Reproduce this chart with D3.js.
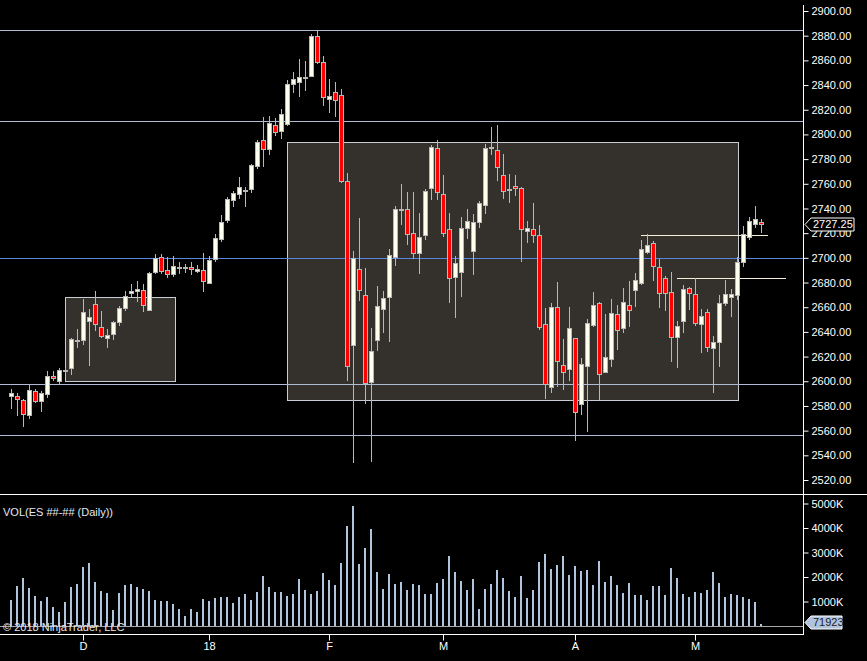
<!DOCTYPE html>
<html>
<head>
<meta charset="utf-8">
<script src="https://cdn.jsdelivr.net/npm/d3@7"></script>
<style>
  body { margin: 0; background: #000; }
  svg { display: block; }
  text { font-family: "Liberation Sans", Arial, sans-serif; }
</style>
</head>
<body>
<div id="chart"></div>
<script>
// daily bars, oldest first (index 0 .. 125)
const opens = [
  2587.5, 2588.0, 2584.5, 2572.1, 2591.8, 2583.4, 2589.9, 2604.0, 2600.1, 2609.3,
  2610.1, 2633.4, 2633.1, 2648.2, 2662.3, 2643.6, 2634.5, 2637.7, 2647.4, 2659.6,
  2670.9, 2672.5, 2673.6, 2657.7, 2688.0, 2700.4, 2689.8, 2686.3, 2692.0, 2692.0,
  2692.3, 2689.0, 2689.8, 2679.3, 2698.8, 2715.5, 2730.1, 2746.6, 2751.4, 2754.9,
  2755.5, 2773.9, 2795.2, 2787.9, 2807.9, 2802.5, 2808.2, 2840.6, 2842.2, 2846.0,
  2847.6, 2879.7, 2858.4, 2828.4, 2834.1, 2831.7, 2762.3, 2628.8, 2690.7, 2669.6,
  2598.8, 2632.9, 2658.0, 2668.0, 2700.4, 2739.6, 2739.3, 2719.8, 2703.6, 2718.2,
  2756.3, 2788.7, 2751.4, 2723.1, 2684.2, 2688.0, 2723.9, 2705.3, 2728.8, 2742.5,
  2789.3, 2787.1, 2766.8, 2755.2, 2757.9, 2756.3, 2721.2, 2723.4, 2718.2, 2646.1,
  2595.1, 2659.9, 2612.9, 2609.4, 2634.8, 2581.3, 2611.8, 2645.6, 2663.1, 2607.0,
  2617.7, 2654.2, 2642.9, 2661.5, 2673.7, 2679.3, 2704.4, 2711.7, 2692.3, 2683.4,
  2672.0, 2635.6, 2648.5, 2675.3, 2670.4, 2646.1, 2655.8, 2626.7, 2631.5, 2663.1,
  2668.0, 2669.6, 2696.3, 2716.6, 2727.1, 2728.8
];
const highs = [
  2593.4, 2590.2, 2586.0, 2597.7, 2593.4, 2591.8, 2608.3, 2608.3, 2610.7, 2610.4,
  2635.0, 2642.3, 2666.6, 2658.2, 2673.1, 2656.9, 2642.0, 2648.8, 2660.9, 2673.1,
  2678.8, 2680.9, 2678.5, 2688.5, 2703.1, 2703.1, 2700.9, 2701.4, 2696.6, 2695.0,
  2696.6, 2694.1, 2703.6, 2701.4, 2719.0, 2734.4, 2749.6, 2754.4, 2765.2, 2757.1,
  2776.0, 2795.5, 2813.8, 2814.6, 2813.3, 2820.3, 2844.1, 2850.3, 2860.8, 2859.2,
  2881.4, 2883.8, 2863.5, 2844.6, 2842.5, 2836.5, 2768.5, 2705.5, 2732.3, 2691.8,
  2643.1, 2677.2, 2672.8, 2707.1, 2742.0, 2759.6, 2753.3, 2753.3, 2736.3, 2755.5,
  2791.4, 2795.5, 2767.1, 2736.0, 2701.5, 2732.8, 2739.3, 2735.2, 2746.0, 2792.2,
  2805.7, 2807.4, 2784.1, 2767.9, 2767.1, 2757.0, 2729.8, 2744.4, 2726.6, 2659.1,
  2663.1, 2680.4, 2633.9, 2660.2, 2634.8, 2618.6, 2650.2, 2672.0, 2663.9, 2654.5,
  2666.6, 2661.8, 2675.5, 2681.2, 2687.4, 2714.4, 2719.3, 2713.6, 2699.1, 2685.3,
  2688.2, 2648.8, 2677.7, 2676.6, 2683.4, 2658.5, 2658.5, 2636.7, 2669.9, 2682.0,
  2674.7, 2700.4, 2725.8, 2732.8, 2742.0, 2731.2
];
const lows = [
  2577.7, 2571.8, 2563.1, 2569.4, 2582.6, 2575.0, 2586.6, 2600.1, 2596.9, 2607.0,
  2605.3, 2627.2, 2629.3, 2612.6, 2640.9, 2634.7, 2627.2, 2633.6, 2645.0, 2656.9,
  2667.9, 2664.4, 2656.3, 2656.6, 2686.9, 2686.9, 2683.6, 2684.7, 2686.9, 2688.0,
  2686.0, 2688.0, 2672.5, 2678.5, 2696.9, 2713.1, 2728.5, 2741.4, 2747.9, 2741.4,
  2752.8, 2771.7, 2773.9, 2783.3, 2799.0, 2796.3, 2807.1, 2833.8, 2830.6, 2835.4,
  2846.3, 2856.8, 2823.0, 2817.6, 2814.4, 2760.4, 2600.5, 2534.0, 2665.0, 2581.5,
  2534.8, 2624.8, 2639.4, 2632.1, 2693.6, 2726.6, 2710.4, 2698.8, 2687.2, 2714.4,
  2746.9, 2746.9, 2717.1, 2663.7, 2651.5, 2668.5, 2715.3, 2686.1, 2724.4, 2735.5,
  2783.3, 2762.3, 2747.7, 2744.7, 2750.1, 2696.9, 2712.3, 2712.3, 2641.5, 2585.6,
  2590.7, 2595.6, 2592.9, 2600.5, 2551.8, 2572.9, 2559.1, 2644.2, 2584.8, 2607.0,
  2611.8, 2625.3, 2639.4, 2644.2, 2660.4, 2678.0, 2703.1, 2681.5, 2659.6, 2657.2,
  2615.9, 2611.0, 2639.4, 2657.7, 2645.0, 2623.2, 2623.4, 2590.7, 2611.8, 2660.9,
  2652.3, 2665.8, 2692.8, 2714.4, 2724.4, 2720.4
];
const closes = [
  2590.2, 2585.8, 2572.9, 2592.6, 2583.4, 2590.2, 2604.2, 2602.0, 2609.1, 2609.5,
  2633.9, 2633.6, 2655.8, 2651.7, 2646.1, 2636.1, 2637.2, 2647.7, 2659.0, 2669.3,
  2672.8, 2674.4, 2661.2, 2687.4, 2699.5, 2688.7, 2686.6, 2693.1, 2692.2, 2692.2,
  2690.6, 2690.9, 2680.6, 2698.2, 2715.8, 2729.0, 2747.4, 2752.3, 2757.1, 2755.1,
  2774.9, 2793.6, 2787.9, 2809.0, 2801.9, 2816.3, 2840.6, 2844.9, 2846.3, 2846.2,
  2879.7, 2858.4, 2830.0, 2831.1, 2827.6, 2761.7, 2612.6, 2699.6, 2673.4, 2598.3,
  2624.2, 2660.7, 2667.2, 2702.0, 2739.3, 2739.8, 2719.0, 2703.6, 2716.6, 2754.2,
  2789.5, 2753.1, 2719.8, 2683.4, 2695.5, 2723.9, 2729.6, 2728.8, 2744.2, 2788.7,
  2789.5, 2773.3, 2753.9, 2755.4, 2756.3, 2723.1, 2723.9, 2718.2, 2643.4, 2597.5,
  2659.9, 2615.9, 2606.9, 2642.9, 2574.8, 2613.7, 2646.9, 2661.5, 2605.6, 2619.4,
  2655.0, 2641.2, 2663.9, 2657.7, 2681.8, 2706.9, 2710.1, 2693.4, 2671.2, 2671.2,
  2635.6, 2644.8, 2674.5, 2671.2, 2646.9, 2652.9, 2627.5, 2631.5, 2663.1, 2670.4,
  2670.7, 2696.3, 2719.0, 2729.6, 2731.2, 2727.25
];
// volume in thousands of contracts
const volumesK = [
  1061, 1633, 1959, 1551, 1224, 1020, 1184, 776, 571, 980,
  1592, 1714, 2408, 2572, 1796, 1429, 1347, 653, 1347, 1674,
  1714, 1592, 1510, 1429, 1061, 1020, 1020, 898, 694, 408,
  694, 571, 1102, 1020, 1143, 1184, 1184, 939, 1184, 1306,
  1061, 1388, 2041, 1592, 1388, 1388, 1224, 1306, 1918, 1469,
  1306, 1429, 2163, 1878, 1674, 2572, 4082, 4898, 2531, 3184,
  3959, 2204, 1510, 2123, 1714, 1796, 1469, 1714, 1674, 1306,
  1306, 1755, 1918, 2857, 2204, 1837, 1469, 1918, 694, 1510,
  1714, 2286, 1959, 1429, 1184, 2041, 1143, 1469, 2612, 2939,
  2327, 2490, 2857, 2082, 2449, 2245, 2286, 1674, 2653, 1796,
  2041, 1674, 1347, 1755, 1265, 1265, 1061, 1633, 1633, 1265,
  2367, 1959, 1306, 1184, 1388, 1347, 1469, 2204, 1755, 1184,
  1306, 1265, 1184, 1102, 980, 71.923
];

// month starts on the time axis
const monthIndex = [12, 33, 53, 72, 94, 114];
const monthLabels = ["D", "18", "F", "M", "A", "M"];

const priceTicks = d3.range(2520, 2901, 20);
const volumeTicks = [1000000, 2000000, 3000000, 4000000, 5000000];

// drawn objects
const levelPrices = [2884.6, 2810.9, 2597.6, 2556.2];
const bluePrice = 2700;
const boxes = [
  { from: 9.0, to: 27.33, top: 2668.2, bottom: 2600.2 },
  { from: 46.05, to: 121.2, top: 2793.6, bottom: 2584.8 }
];
const rays = [
  { price: 2718.2, from: 105, to: 126.1 },
  { price: 2683.4, from: 111, to: 129.1 }
];

const bars = opens.map((o, i) => ({
  i, open: o, high: highs[i], low: lows[i], close: closes[i], volume: volumesK[i] * 1000
}));

const width = 867, height = 661;
const plotRight = 803;
const priceBottom = 494;
const timeAxisY = 634;

const svg = d3.select("#chart")
  .append("svg")
  .attr("width", width)
  .attr("height", height)
  .style("background", "#000");

const x = d3.scaleLinear().domain([0, 125]).range([11, 761]);
const y = d3.scaleLinear().domain([2520, 2900]).range([480, 11]);
const yVol = d3.scaleLinear().domain([0, 5000000]).range([626, 503.5]);

const px = (i) => Math.round(x(i));

// boxes
svg.append("g")
  .selectAll("rect")
  .data(boxes)
  .enter()
  .append("rect")
  .attr("x", (d) => Math.round(x(d.from)) + 0.5)
  .attr("y", (d) => Math.round(y(d.top)) + 0.5)
  .attr("width", (d) => Math.round(x(d.to) - x(d.from)))
  .attr("height", (d) => Math.round(y(d.bottom) - y(d.top)))
  .attr("fill", "#34302b")
  .attr("stroke", "#c8ccd4")
  .attr("stroke-width", 1);

// horizontal levels
svg.append("g")
  .selectAll("line")
  .data(levelPrices)
  .enter()
  .append("line")
  .attr("x1", 0)
  .attr("x2", plotRight)
  .attr("y1", (d) => Math.round(y(d)) + 0.5)
  .attr("y2", (d) => Math.round(y(d)) + 0.5)
  .attr("stroke", "#b0bcd6");

svg.append("line")
  .attr("x1", 0)
  .attr("x2", plotRight)
  .attr("y1", Math.round(y(bluePrice)) + 0.5)
  .attr("y2", Math.round(y(bluePrice)) + 0.5)
  .attr("stroke", "#5b86de");

svg.append("g")
  .selectAll("line")
  .data(rays)
  .enter()
  .append("line")
  .attr("x1", (d) => Math.round(x(d.from)))
  .attr("x2", (d) => Math.round(x(d.to)))
  .attr("y1", (d) => Math.round(y(d.price)) + 0.5)
  .attr("y2", (d) => Math.round(y(d.price)) + 0.5)
  .attr("stroke", "#f4f0d8");

// candles
const candles = svg.append("g").attr("shape-rendering", "crispEdges");

candles.selectAll(".wick")
  .data(bars)
  .enter()
  .append("line")
  .attr("class", "wick")
  .attr("x1", (d) => px(d.i) + 0.5)
  .attr("x2", (d) => px(d.i) + 0.5)
  .attr("y1", (d) => y(d.high))
  .attr("y2", (d) => y(d.low))
  .attr("stroke", "#b8b8b8");

candles.selectAll(".body")
  .data(bars)
  .enter()
  .append("rect")
  .attr("class", "body")
  .attr("x", (d) => px(d.i) - 2 + 0.5)
  .attr("y", (d) => Math.round(y(Math.max(d.open, d.close))) + 0.5)
  .attr("width", 4)
  .attr("height", (d) => Math.max(1, Math.round(y(Math.min(d.open, d.close)) - y(Math.max(d.open, d.close)))))
  .attr("fill", (d) => (d.close >= d.open ? "#fffff0" : "#ff0000"))
  .attr("stroke", "#b8b8b8");

// volume bars
svg.append("g")
  .attr("shape-rendering", "crispEdges")
  .selectAll("rect")
  .data(bars)
  .enter()
  .append("rect")
  .attr("x", (d) => px(d.i) - 1)
  .attr("y", (d) => yVol(d.volume))
  .attr("width", 2)
  .attr("height", (d) => yVol(0) - yVol(d.volume))
  .attr("fill", "#b0c4de");

// volume baseline
svg.append("line")
  .attr("x1", 0).attr("x2", plotRight)
  .attr("y1", yVol(0) + 0.5).attr("y2", yVol(0) + 0.5)
  .attr("stroke", "#a8a8a8");

// panel frame
const frame = svg.append("g").attr("stroke", "#fff").attr("shape-rendering", "crispEdges");
frame.append("line").attr("x1", plotRight + 0.5).attr("x2", plotRight + 0.5).attr("y1", 5).attr("y2", timeAxisY);
frame.append("line").attr("x1", 0).attr("x2", width).attr("y1", priceBottom + 0.5).attr("y2", priceBottom + 0.5);
frame.append("line").attr("x1", 0).attr("x2", plotRight + 1).attr("y1", timeAxisY + 0.5).attr("y2", timeAxisY + 0.5);

// axes
function styleAxis(g) {
  g.select(".domain").remove();
  g.selectAll(".tick line").attr("stroke", "#fff");
  g.selectAll(".tick text").attr("fill", "#fff");
  g.attr("font-size", 11).attr("font-family", "Liberation Sans, Arial, sans-serif");
}

svg.append("g")
  .attr("transform", `translate(${plotRight + 0.5},0)`)
  .call(d3.axisRight(y).tickValues(priceTicks).tickFormat(d3.format(".2f")).tickSize(5).tickPadding(3))
  .call(styleAxis);

svg.append("g")
  .attr("transform", `translate(${plotRight + 0.5},0)`)
  .call(d3.axisRight(yVol).tickValues(volumeTicks).tickFormat((d) => d / 1000 + "K").tickSize(5).tickPadding(3))
  .call(styleAxis);

svg.append("g")
  .attr("transform", `translate(0,${timeAxisY + 0.5})`)
  .call(d3.axisBottom(x).tickValues(monthIndex).tickFormat((d, i) => monthLabels[i]).tickSize(6).tickPadding(2))
  .call(styleAxis)
  .call((g) => g.selectAll(".tick").attr("transform", (d) => `translate(${px(d) + 0.5},0)`));

// last price marker
const lastBar = bars[bars.length - 1];
function marker(yPos, w, fill, stroke, textFill, label) {
  const x0 = plotRight + 2, h = 6.5;
  const g = svg.append("g");
  g.append("path")
    .attr("d", `M${x0},${yPos} L${x0 + 6},${yPos - h} L${x0 + w},${yPos - h} L${x0 + w},${yPos + h} L${x0 + 6},${yPos + h} Z`)
    .attr("fill", fill)
    .attr("stroke", stroke);
  g.append("text")
    .attr("x", x0 + 8)
    .attr("y", yPos)
    .attr("dy", "0.36em")
    .attr("fill", textFill)
    .style("font-size", "11px")
    .text(label);
}
marker(Math.round(y(lastBar.close)) + 0.5, 49, "#000", "#fff", "#fff", d3.format(".2f")(lastBar.close));
marker(Math.round(yVol(lastBar.volume)) - 1.5, 37, "#b0c4de", "#fff", "#222", d3.format("d")(lastBar.volume));

// labels
svg.append("text")
  .attr("x", 3)
  .attr("y", 516)
  .attr("fill", "#e4e9f4")
  .style("font-size", "11px")
  .text("VOL(ES ##-## (Daily))");

svg.append("text")
  .attr("x", 3)
  .attr("y", 631)
  .attr("fill", "#e8e8e8")
  .style("font-size", "11px")
  .text("© 2018 NinjaTrader, LLC");
</script>
</body>
</html>
